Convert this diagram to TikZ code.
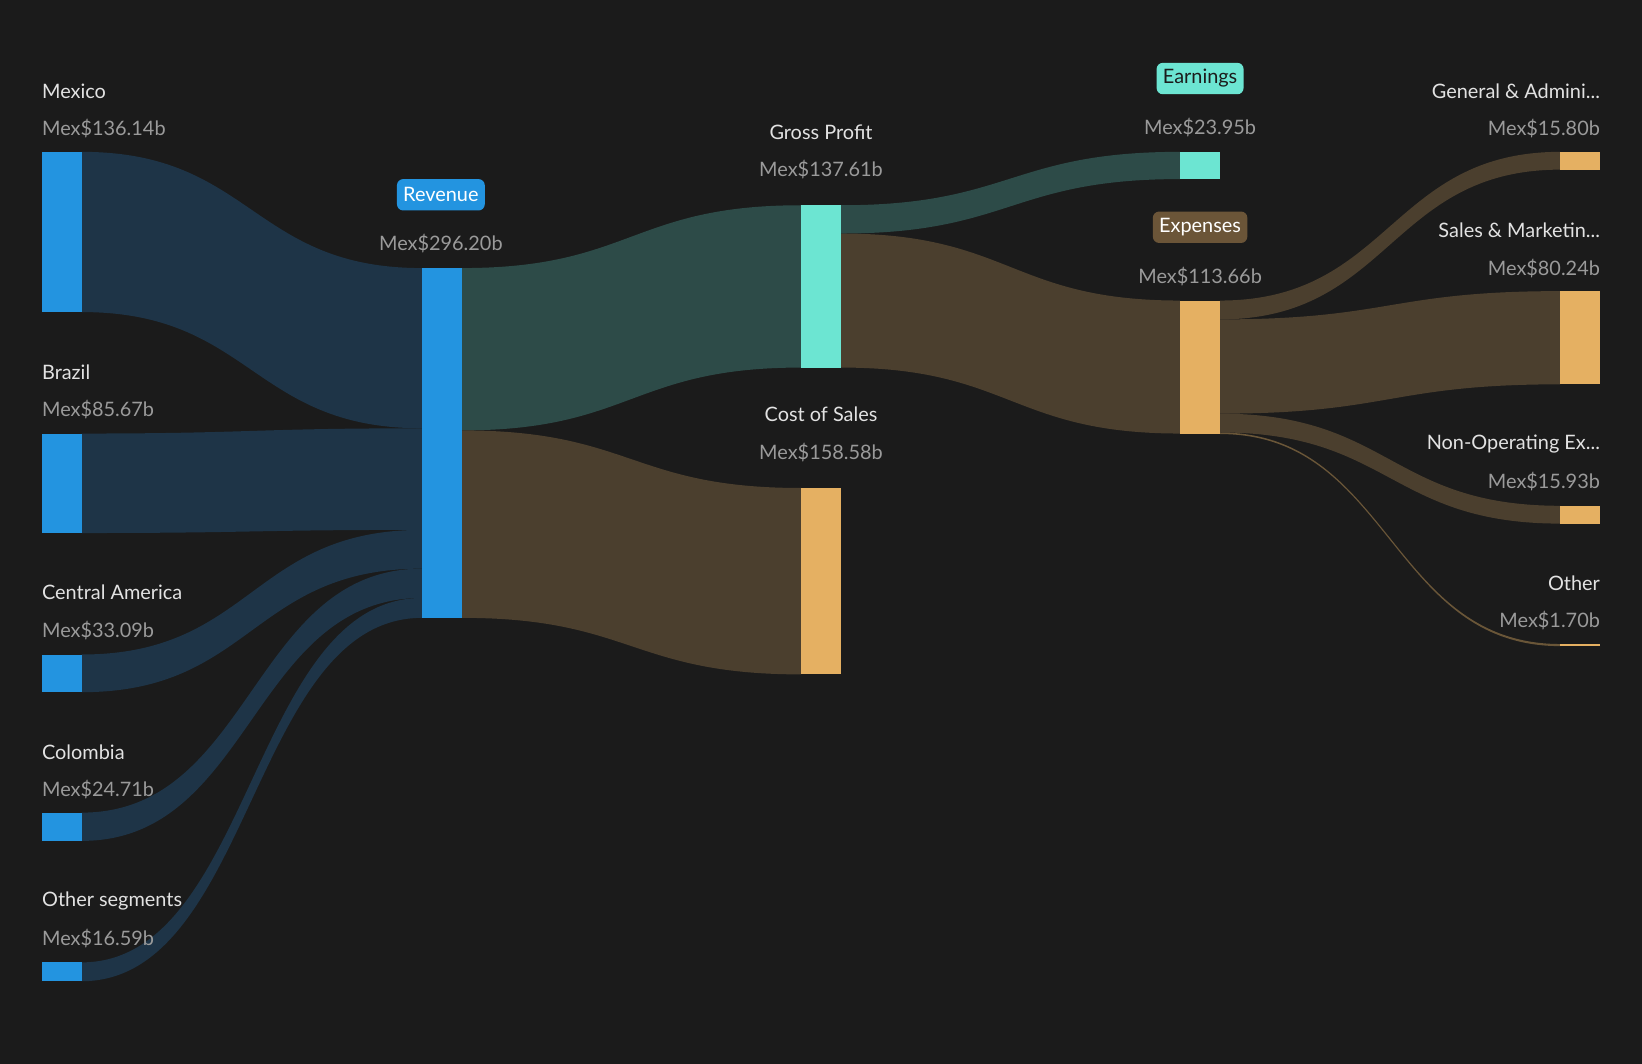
\documentclass[tikz,border=0pt]{standalone}
\usepackage{fontspec}
\setmainfont{Lato}
\begin{document}
\definecolor{bg}{HTML}{1B1B1B}
\definecolor{fblue}{HTML}{1E3447}
\definecolor{fteal}{HTML}{2D4B48}
\definecolor{fbrown}{HTML}{4B3F2E}
\definecolor{bblue}{HTML}{2394E0}
\definecolor{bteal}{HTML}{6CE5D2}
\definecolor{borange}{HTML}{E5B062}
\definecolor{bbrown}{HTML}{6B5538}
\definecolor{tname}{HTML}{E2E2E2}
\definecolor{tval}{HTML}{9A9A9A}
\newcommand{\flowpath}[7]{%
 \fill[#7] (#1,#2) .. controls ({(#1+#4)/2},#2) and ({(#1+#4)/2},#5) .. (#4,#5) -- (#4,#6)
 .. controls ({(#1+#4)/2},#6) and ({(#1+#4)/2},#3) .. (#1,#3) -- cycle;}
\begin{tikzpicture}[x=1pt,y=-1pt,
 nm/.style={text=tname,font=\fontsize{19}{22}\selectfont,inner sep=0},
 vl/.style={text=tval,font=\fontsize{19}{22}\selectfont,inner sep=0},
 badge/.style={rounded corners=6pt,font=\fontsize{19}{22}\selectfont,inner xsep=6pt,minimum height=30pt}]
\fill[bg] (0,0) rectangle (1568,1016);
\useasboundingbox (0,0) rectangle (1568,1016);
% flows
\flowpath{78}{145}{298}{403}{256}{409}{fblue}
\flowpath{78}{414}{509}{403}{409}{506}{fblue}
\flowpath{78}{625}{661}{403}{506}{543}{fblue}
\flowpath{78}{776}{803}{403}{543}{571}{fblue}
\flowpath{78}{919}{937}{403}{571}{590}{fblue}
\flowpath{441}{256}{411}{765}{196}{351}{fteal}
\flowpath{441}{411}{590}{765}{466}{644}{fbrown}
\flowpath{803}{196}{223}{1127}{145}{171}{fteal}
\flowpath{803}{223}{351}{1127}{287}{414}{fbrown}
\flowpath{1165}{287}{305}{1490}{145}{162}{fbrown}
\flowpath{1165}{305}{395}{1490}{278}{367}{fbrown}
\flowpath{1165}{395}{413}{1490}{483}{500}{fbrown}
\flowpath{1165}{413}{414.5}{1490}{615}{617}{fbrown!80!borange}
% bars
\fill[bblue] (40,145) rectangle (78,298) node[coordinate](mx){};
\fill[bblue] (40,414) rectangle (78,509);
\fill[bblue] (40,625) rectangle (78,661);
\fill[bblue] (40,776) rectangle (78,803);
\fill[bblue] (40,919) rectangle (78,937);
\fill[bblue] (403,256) rectangle (441,590);
\fill[bteal] (765,196) rectangle (803,351);
\fill[borange] (765,466) rectangle (803,644);
\fill[bteal] (1127,145) rectangle (1165,171);
\fill[borange] (1127,287) rectangle (1165,414);
\fill[borange] (1490,145) rectangle (1528,162);
\fill[borange] (1490,278) rectangle (1528,367);
\fill[borange] (1490,483) rectangle (1528,500);
\fill[borange] (1490,615) rectangle (1528,617);
% left labels
\node[nm,anchor=west] (l1) at (40,87) {Mexico};
\node[vl,anchor=west] (v1) at (40,123) {Mex\$136.14b};
\node[nm,anchor=west] (l2) at (40,355) {Brazil};
\node[vl,anchor=west] (v2) at (40,391) {Mex\$85.67b};
\node[nm,anchor=west] (l3) at (40,566) {Central America};
\node[vl,anchor=west] (v3) at (40,602) {Mex\$33.09b};
\node[nm,anchor=west] (l4) at (40,718) {Colombia};
\node[vl,anchor=west] (v4) at (40,754) {Mex\$24.71b};
\node[nm,anchor=west] (l5) at (40,860) {Other segments};
\node[vl,anchor=west] (v5) at (40,896) {Mex\$16.59b};
% middle labels
\node[badge,fill=bblue,text=white] (rev) at (421,186) {Revenue};
\node[vl] (vrev) at (421,233) {Mex\$296.20b};
\node[nm] (gp) at (784,126) {Gross Profit};
\node[vl] (vgp) at (784,162) {Mex\$137.61b};
\node[nm] (cs) at (784,396) {Cost of Sales};
\node[vl] (vcs) at (784,432) {Mex\$158.58b};
\node[badge,fill=bteal,text=bg] (ea) at (1146,75) {Earnings};
\node[vl] (vea) at (1146,122) {Mex\$23.95b};
\node[badge,fill=bbrown,text=white] (ex) at (1146,217) {Expenses};
\node[vl] (vex) at (1146,264) {Mex\$113.66b};
% right labels
\node[nm,anchor=east] (r1) at (1528,87) {General \& Admini...};
\node[vl,anchor=east] (w1) at (1528,123) {Mex\$15.80b};
\node[nm,anchor=east] (r2) at (1528,220) {Sales \& Marketin...};
\node[vl,anchor=east] (w2) at (1528,256) {Mex\$80.24b};
\node[nm,anchor=east] (r3) at (1528,424) {Non-Operating Ex...};
\node[vl,anchor=east] (w3) at (1528,460) {Mex\$15.93b};
\node[nm,anchor=east] (r4) at (1528,557) {Other};
\node[vl,anchor=east] (w4) at (1528,593) {Mex\$1.70b};
\end{tikzpicture}
\end{document}
